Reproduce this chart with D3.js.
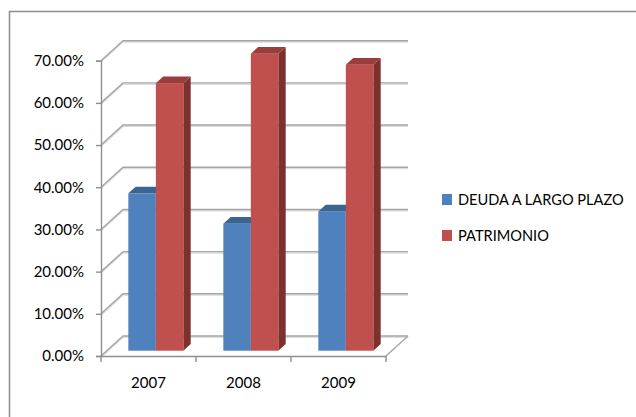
<!DOCTYPE html>
<html>
<head>
<meta charset="utf-8">
<script src="https://cdn.jsdelivr.net/npm/d3@7"></script>
<style>
  html, body { margin: 0; padding: 0; background: #fff; }
  svg { display: block; }
  text { font-family: Lato, "Open Sans", sans-serif; fill: #000; }
</style>
</head>
<body>
<svg id="chart" width="636" height="417"></svg>
<script>
// Capital structure by year
const categories = ["2007", "2008", "2009"];
const seriesNames = ["DEUDA A LARGO PLAZO", "PATRIMONIO"];
const deuda = [37.3, 30.1, 33.0];
const patrimonio = [63.4, 70.4, 67.8];
const tickValues = [0, 10, 20, 30, 40, 50, 60, 70];
const seriesColors = ["#4f81bd", "#c0504d"];
const topColors = ["#3b6494", "#9a3d3b"];
const sideColors = ["#36597f", "#7d302e"];

const svg = d3.select("#chart");

// outer frame
svg.append("rect")
  .attr("x", 9.5).attr("y", 11.5)
  .attr("width", 700).attr("height", 500)
  .attr("fill", "none").attr("stroke", "#8c8c8c").attr("stroke-width", 1.5);

// front-plane scales and the oblique depth offset
const x = d3.scaleBand().domain(categories).range([101, 386]).padding(0);
const y = d3.scaleLinear().domain([0, 70]).range([356, 60.7]);
const x1 = d3.scaleBand().domain(seriesNames).range([21.5, 76.5]).padding(0);
const DX = 22, DY = 20;
const z0 = 0.265, z1 = 0.6;

const x0 = x.range()[0], xEnd = x.range()[1];

// walls: side-wall diagonals plus back-wall gridlines
const grid = svg.append("g");
tickValues.forEach(t => {
  const yf = y(t);
  const p = `M${x0},${yf}L${x0 + DX},${yf - DY}L${xEnd + DX},${yf - DY}`;
  grid.append("path").attr("d", p).attr("transform", "translate(0,1.3)")
    .attr("fill", "none").attr("stroke", "#dcdcdc").attr("stroke-width", 1.5);
  grid.append("path").attr("d", p)
    .attr("fill", "none").attr("stroke", "#a6a6a6").attr("stroke-width", 1.4);
});
// right edge of the floor
svg.append("path")
  .attr("d", `M${xEnd},${y(0)}L${xEnd + DX},${y(0) - DY}`)
  .attr("fill", "none").attr("stroke", "#a6a6a6").attr("stroke-width", 1.4);

// value axis
const yAxis = svg.append("g")
  .attr("transform", `translate(${x0},0)`)
  .call(d3.axisLeft(y).tickValues(tickValues).tickSize(5).tickPadding(12)
    .tickFormat(d => d.toFixed(2) + "%"));
yAxis.selectAll("path,line").attr("stroke", "#8f8f8f").attr("stroke-width", 1.4);
yAxis.selectAll("text").style("font-size", "15px").attr("fill", "#000");

// category axis: labels at band centres, ticks at band edges
const xAxis = svg.append("g")
  .attr("transform", `translate(0,${y(0)})`)
  .call(d3.axisBottom(x).tickSize(0).tickPadding(21));
xAxis.select(".domain").attr("stroke", "#8f8f8f").attr("stroke-width", 1.4);
xAxis.selectAll("text").style("font-size", "15px").attr("fill", "#000");
const edges = categories.map(c => x(c)).concat([xEnd]);
xAxis.selectAll("line.edge").data(edges).enter().append("line")
  .attr("class", "edge")
  .attr("x1", d => d).attr("x2", d => d)
  .attr("y1", 0).attr("y2", 6)
  .attr("stroke", "#8f8f8f").attr("stroke-width", 1.4);

// bars
const data = [deuda, patrimonio];
const bars = svg.append("g");
const ddx = (z1 - z0) * DX, ddy = (z1 - z0) * DY;
categories.forEach((cat, i) => {
  seriesNames.forEach((s, k) => {
    const v = data[k][i];
    const xl = x(cat) + x1(s) + z0 * DX;
    const w = x1.bandwidth();
    const yt = y(v) - z0 * DY;
    const yb = y(0) - z0 * DY;
    const g = bars.append("g");
    g.append("path")
      .attr("d", `M${xl + w},${yt}L${xl + w + ddx},${yt - ddy}L${xl + w + ddx},${yb - ddy}L${xl + w},${yb}Z`)
      .attr("fill", sideColors[k]);
    g.append("rect")
      .attr("x", xl).attr("y", yt)
      .attr("width", w).attr("height", yb - yt)
      .attr("fill", seriesColors[k]);
    g.append("path")
      .attr("d", `M${xl},${yt}L${xl + w},${yt}L${xl + w + ddx},${yt - ddy}L${xl + ddx},${yt - ddy}Z`)
      .attr("fill", topColors[k]);
  });
});

// legend
const legend = svg.append("g");
seriesNames.forEach((s, k) => {
  const ly = 194 + k * 36;
  legend.append("rect")
    .attr("x", 442).attr("y", ly)
    .attr("width", 10).attr("height", 11)
    .attr("fill", seriesColors[k]);
  legend.append("text")
    .attr("x", 458).attr("y", ly + 5.5).attr("dy", "0.35em")
    .style("font-size", "14.6px")
    .text(s);
});
</script>
</body>
</html>
